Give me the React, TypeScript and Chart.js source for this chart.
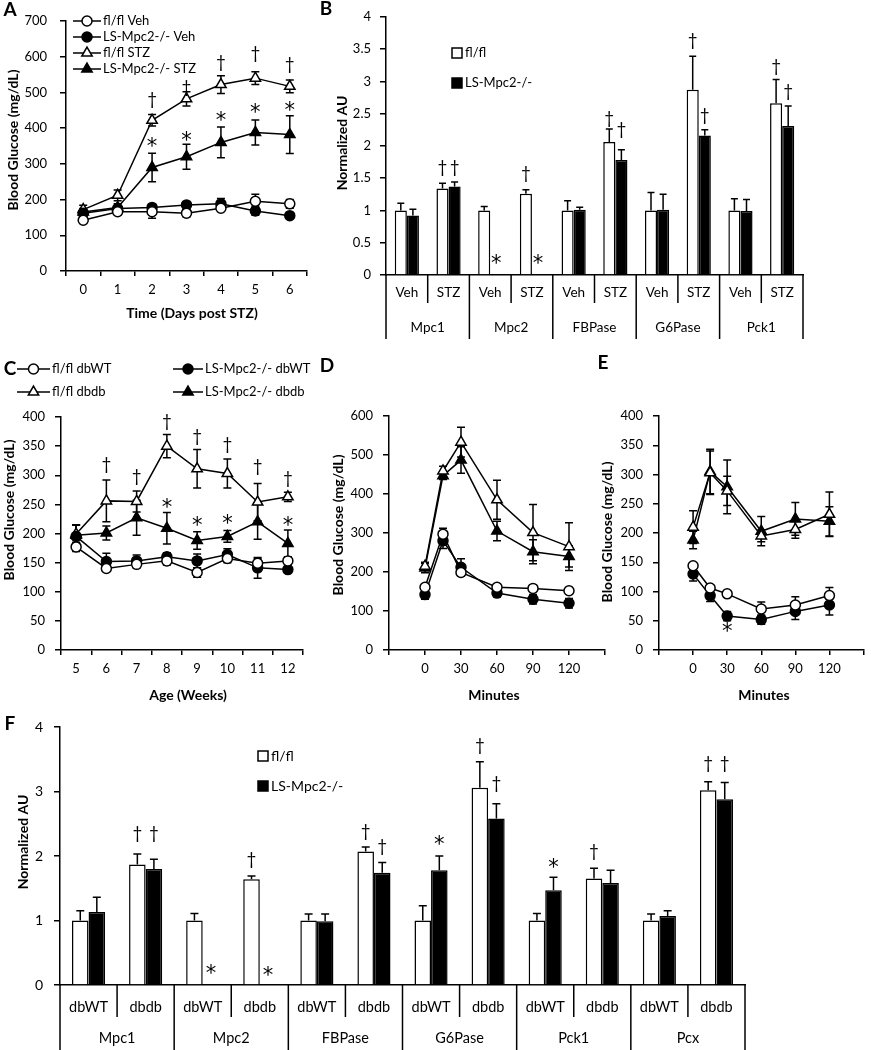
import React, { useEffect, useRef } from 'react';
import { Chart, registerables } from 'chart.js';

Chart.register(...registerables);

const W = 871;
const H = 1050;
const FONT = 'Lato, "Open Sans", "DejaVu Sans", sans-serif';
const STAR_FONT = '"DejaVu Sans", sans-serif';

// ---------------- Panel A ----------------
const aDays = ['0', '1', '2', '3', '4', '5', '6'];
const aFlVeh = [142, 166, 166, 162, 176, 195, 188];
const aFlVehErr = [8, 8, 18, 10, 8, 20, 12];
const aLsVeh = [162, 175, 178, 185, 188, 168, 155];
const aLsVehErr = [10, 8, 10, 8, 15, 12, 6];
const aFlStz = [172, 212, 422, 482, 522, 540, 517];
const aFlStzErr = [12, 15, 16, 20, 25, 18, 18];
const aLsStz = [165, 178, 290, 320, 360, 388, 382];
const aLsStzErr = [10, 10, 40, 35, 43, 35, 53];
const aDaggerIdx = [2, 3, 4, 5, 6];
const aDaggerVal = [479, 515, 585, 610, 577];
const aStarIdx = [2, 3, 4, 5, 6];
const aStarVal = [358, 375, 431, 451, 457];

// ---------------- Panel B ----------------
const bConditions = ['Veh', 'STZ', 'Veh', 'STZ', 'Veh', 'STZ', 'Veh', 'STZ', 'Veh', 'STZ'];
const bGenes = ['Mpc1', 'Mpc2', 'FBPase', 'G6Pase', 'Pck1'];
const bFl = [1.0, 1.34, 1.0, 1.26, 1.0, 2.06, 1.0, 2.87, 1.0, 2.66];
const bFlErr = [0.11, 0.08, 0.06, 0.06, 0.15, 0.2, 0.28, 0.52, 0.18, 0.37];
const bLs = [0.92, 1.37, 0.01, 0.008, 1.01, 1.78, 1.01, 2.16, 0.99, 2.31];
const bLsErr = [0.1, 0.07, 0, 0, 0.04, 0.16, 0.24, 0.09, 0.18, 0.31];
// [category, dataset, value, symbol]
const bMarks: [number, number, number, string][] = [
  [1, 0, 1.67, '†'], [1, 1, 1.67, '†'], [3, 0, 1.57, '†'],
  [2, 1, 0.22, '*'], [3, 1, 0.22, '*'],
  [5, 0, 2.42, '†'], [5, 1, 2.25, '†'],
  [7, 0, 3.64, '†'], [7, 1, 2.47, '†'],
  [9, 0, 3.23, '†'], [9, 1, 2.85, '†'],
];

// ---------------- Panel C ----------------
const cWeeks = ['5', '6', '7', '8', '9', '10', '11', '12'];
const cFlWT = [177, 140, 147, 153, 133, 157, 149, 153];
const cFlWTErr = [8, 5, 6, 7, 8, 7, 8, 5];
const cLsWT = [195, 152, 153, 160, 153, 164, 141, 138];
const cLsWTErr = [20, 14, 10, 7, 12, 10, 18, 5];
const cFlDb = [199, 256, 255, 350, 311, 303, 254, 263];
const cFlDbErr = [15, 36, 18, 20, 33, 25, 32, 8];
const cLsDb = [197, 201, 227, 209, 188, 195, 220, 183];
const cLsDbErr = [18, 12, 30, 27, 15, 10, 30, 23];
const cDaggerIdx = [1, 2, 3, 4, 5, 6, 7];
const cDaggerVal = [318, 298, 392, 367, 352, 315, 295];
const cStarIdx = [3, 4, 5, 7];
const cStarVal = [249, 219, 222, 219];

// ---------------- Panel D ----------------
const dMinutes = [0, 15, 30, 60, 90, 120];
const dFlWT = [161, 297, 199, 161, 158, 152];
const dFlWTErr = [5, 15, 8, 8, 5, 8];
const dLsWT = [142, 280, 212, 146, 130, 120];
const dLsWTErr = [12, 20, 22, 10, 12, 12];
const dFlDb = [215, 459, 533, 385, 301, 265];
const dFlDbErr = [10, 12, 38, 50, 72, 61];
const dLsDb = [210, 447, 487, 305, 252, 240];
const dLsDbErr = [12, 10, 34, 25, 31, 27];

// ---------------- Panel E ----------------
const eMinutes = [0, 15, 30, 60, 90, 120];
const eFlWT = [144, 106, 96, 70, 77, 93];
const eFlWTErr = [5, 5, 3, 12, 14, 14];
const eLsWT = [130, 93, 58, 52, 66, 77];
const eLsWTErr = [12, 10, 8, 8, 14, 17];
const eFlDb = [210, 303, 272, 195, 206, 232];
const eFlDbErr = [28, 37, 25, 10, 15, 38];
const eLsDb = [188, 305, 279, 203, 224, 220];
const eLsDbErr = [15, 38, 46, 25, 28, 25];
const eStarX = [30];
const eStarVal = [37];

// ---------------- Panel F ----------------
const fConditions = ['dbWT', 'dbdb', 'dbWT', 'dbdb', 'dbWT', 'dbdb', 'dbWT', 'dbdb', 'dbWT', 'dbdb', 'dbWT', 'dbdb'];
const fGenes = ['Mpc1', 'Mpc2', 'FBPase', 'G6Pase', 'Pck1', 'Pcx'];
const fFl = [1.0, 1.87, 1.0, 1.64, 1.0, 2.07, 1.0, 3.06, 1.0, 1.65, 1.0, 3.02];
const fFlErr = [0.15, 0.16, 0.11, 0.05, 0.1, 0.07, 0.23, 0.4, 0.11, 0.16, 0.1, 0.13];
const fLs = [1.13, 1.8, 0.01, 0.01, 0.99, 1.74, 1.78, 2.58, 1.47, 1.58, 1.07, 2.88];
const fLsErr = [0.23, 0.15, 0, 0, 0.11, 0.16, 0.22, 0.23, 0.2, 0.2, 0.08, 0.26];
const fMarks: [number, number, number, string][] = [
  [1, 0, 2.35, '†'], [1, 1, 2.35, '†'], [3, 0, 1.95, '†'],
  [2, 1, 0.23, '*'], [3, 1, 0.19, '*'],
  [5, 0, 2.38, '†'], [5, 1, 2.14, '†'],
  [6, 1, 2.22, '*'], [7, 0, 3.72, '†'], [7, 1, 3.13, '†'],
  [8, 1, 1.86, '*'], [9, 0, 2.07, '†'],
  [11, 0, 3.43, '†'], [11, 1, 3.43, '†'],
];

// ---------------- helpers ----------------
type Plot = { l: number; t: number; r: number; b: number };
type TextItem = { t: string; x: number; y: number; size: number; bold?: boolean; rot?: boolean; align?: CanvasTextAlign; family?: string };
type Mark = { x: number; ds?: number; v: number; s: string };
type LegendItem = { kind: 'line' | 'box'; x1: number; x2: number; y: number; style?: 'circle' | 'triangle'; filled: boolean; label: string; size: number };
type Multi = { l1: string[]; l2: string[]; y1: number; y2: number; inner: number; outer: number; size: number };
type Decor = {
  errs: (number[] | null)[];
  upOnly: boolean;
  errBefore: boolean;
  cap: number;
  marks: Mark[];
  legend: LegendItem[];
  texts: TextItem[];
  multi?: Multi;
};

function drawText(ctx: CanvasRenderingContext2D, it: TextItem) {
  ctx.save();
  ctx.translate(it.x, it.y);
  if (it.rot) ctx.rotate(-Math.PI / 2);
  ctx.font = `${it.bold ? 'bold ' : ''}${it.size}px ${it.family || FONT}`;
  ctx.fillStyle = '#000';
  ctx.textAlign = it.align || 'center';
  ctx.textBaseline = 'middle';
  ctx.fillText(it.t, 0, 0);
  ctx.restore();
}

function drawMarker(ctx: CanvasRenderingContext2D, style: string, filled: boolean, x: number, y: number, r: number) {
  ctx.save();
  ctx.beginPath();
  if (style === 'circle') {
    ctx.arc(x, y, r, 0, Math.PI * 2);
  } else {
    for (let k = 0; k < 3; k++) {
      const a = (k * 2 * Math.PI) / 3;
      const px = x + Math.sin(a) * r;
      const py = y - Math.cos(a) * r;
      if (k === 0) ctx.moveTo(px, py);
      else ctx.lineTo(px, py);
    }
    ctx.closePath();
  }
  ctx.fillStyle = filled ? '#000' : '#fff';
  ctx.fill();
  ctx.lineWidth = 1.5;
  ctx.strokeStyle = '#000';
  ctx.stroke();
  ctx.restore();
}

function drawErrors(chart: any, d: Decor) {
  const ctx: CanvasRenderingContext2D = chart.ctx;
  const ys = chart.scales.y;
  ctx.save();
  ctx.strokeStyle = '#000';
  ctx.lineWidth = 1.5;
  d.errs.forEach((e, di) => {
    if (!e) return;
    const meta = chart.getDatasetMeta(di);
    const data = chart.data.datasets[di].data;
    meta.data.forEach((el: any, j: number) => {
      const err = e[j];
      if (!err) return;
      const raw = data[j];
      const v = typeof raw === 'number' ? raw : raw.y;
      const x = el.x;
      const top = ys.getPixelForValue(v + err);
      const bot = d.upOnly ? ys.getPixelForValue(v) : ys.getPixelForValue(v - err);
      ctx.beginPath();
      ctx.moveTo(x, bot);
      ctx.lineTo(x, top);
      ctx.moveTo(x - d.cap, top);
      ctx.lineTo(x + d.cap, top);
      if (!d.upOnly) {
        ctx.moveTo(x - d.cap, bot);
        ctx.lineTo(x + d.cap, bot);
      }
      ctx.stroke();
    });
  });
  ctx.restore();
}

function decorPlugin(d: Decor) {
  return {
    id: 'decor',
    beforeDatasetsDraw(chart: any) {
      if (d.errBefore) drawErrors(chart, d);
    },
    afterDatasetsDraw(chart: any) {
      if (!d.errBefore) drawErrors(chart, d);
    },
    afterDraw(chart: any) {
      const ctx: CanvasRenderingContext2D = chart.ctx;
      const xs = chart.scales.x;
      const ys = chart.scales.y;
      // significance marks
      d.marks.forEach((m) => {
        let x: number;
        if (m.ds !== undefined) x = chart.getDatasetMeta(m.ds).data[m.x].x;
        else x = xs.getPixelForValue(m.x);
        const star = m.s === '*';
        if (star) {
          drawText(ctx, { t: '*', x, y: ys.getPixelForValue(m.v) + 4, size: 21, family: STAR_FONT });
        } else {
          drawText(ctx, { t: '†', x, y: ys.getPixelForValue(m.v), size: 17 });
        }
      });
      // legend
      d.legend.forEach((li) => {
        if (li.kind === 'line') {
          ctx.save();
          ctx.strokeStyle = '#000';
          ctx.lineWidth = 1.5;
          ctx.beginPath();
          ctx.moveTo(li.x1, li.y);
          ctx.lineTo(li.x2, li.y);
          ctx.stroke();
          ctx.restore();
          drawMarker(ctx, li.style || 'circle', li.filled, (li.x1 + li.x2) / 2, li.y, li.style === 'triangle' ? 6 : 5);
          drawText(ctx, { t: li.label, x: li.x2 + 2, y: li.y, size: li.size, align: 'left' });
        } else {
          ctx.save();
          ctx.fillStyle = li.filled ? '#000' : '#fff';
          ctx.strokeStyle = '#000';
          ctx.lineWidth = 1.5;
          ctx.fillRect(li.x1, li.y - 5, 10, 10);
          ctx.strokeRect(li.x1, li.y - 5, 10, 10);
          ctx.restore();
          drawText(ctx, { t: li.label, x: li.x2, y: li.y, size: li.size, align: 'left' });
        }
      });
      // multi-level category axis
      if (d.multi) {
        const m = d.multi;
        const ca = chart.chartArea;
        const n = m.l1.length;
        const step = (ca.right - ca.left) / n;
        ctx.save();
        ctx.strokeStyle = '#000';
        ctx.lineWidth = 1.5;
        for (let k = 0; k <= n; k++) {
          const x = ca.left + k * step;
          const len = k % 2 === 0 ? m.outer : m.inner;
          ctx.beginPath();
          ctx.moveTo(x, ca.bottom);
          ctx.lineTo(x, ca.bottom + len);
          ctx.stroke();
        }
        ctx.restore();
        m.l1.forEach((t, i) => drawText(ctx, { t, x: xs.getPixelForValue(i), y: m.y1, size: m.size }));
        m.l2.forEach((t, g) =>
          drawText(ctx, { t, x: (xs.getPixelForValue(2 * g) + xs.getPixelForValue(2 * g + 1)) / 2, y: m.y2, size: m.size })
        );
      }
      d.texts.forEach((t) => drawText(ctx, t));
    },
  };
}

function layoutFor(p: Plot, yW: number, xH: number) {
  return { padding: { left: p.l - yW, top: p.t, right: W - p.r, bottom: H - p.b - xH } };
}

function yAxis(min: number, max: number, step: number, yW: number, pad: number, size = 13) {
  return {
    type: 'linear',
    min,
    max,
    ticks: {
      stepSize: step,
      color: '#000',
      font: { family: FONT, size },
      padding: pad,
      callback: (v: number) => String(Math.round(Number(v) * 100) / 100),
    },
    grid: { display: true, drawOnChartArea: false, drawTicks: true, tickLength: 6, color: '#000', lineWidth: 1.5 },
    border: { display: true, color: '#000', width: 1.5 },
    afterFit: (s: any) => {
      s.width = yW;
    },
  };
}

function catXAxis(xH: number) {
  return {
    type: 'category',
    offset: true,
    ticks: { color: '#000', font: { family: FONT, size: 13 }, padding: 6, maxRotation: 0, autoSkip: false },
    grid: { display: true, offset: true, drawOnChartArea: false, drawTicks: true, tickLength: 5, color: '#000', lineWidth: 1.5 },
    border: { display: true, color: '#000', width: 1.5 },
    afterFit: (s: any) => {
      s.height = xH;
      s.paddingLeft = 0;
      s.paddingRight = 0;
    },
  };
}

function minXAxis(xH: number) {
  return {
    type: 'linear',
    min: -30,
    max: 150,
    ticks: {
      stepSize: 30,
      color: '#000',
      font: { family: FONT, size: 13 },
      padding: 6,
      maxRotation: 0,
      callback: (v: number) => (v < 0 || v >= 150 ? '' : String(v)),
    },
    grid: { display: true, drawOnChartArea: false, drawTicks: true, tickLength: 5, color: '#000', lineWidth: 1.5 },
    border: { display: true, color: '#000', width: 1.5 },
    afterFit: (s: any) => {
      s.height = xH;
      s.paddingLeft = 0;
      s.paddingRight = 0;
    },
  };
}

function barXAxis() {
  return {
    type: 'category',
    offset: true,
    ticks: { display: false },
    grid: { display: false },
    border: { display: true, color: '#000', width: 1.5 },
    afterFit: (s: any) => {
      s.height = 0;
      s.paddingLeft = 0;
      s.paddingRight = 0;
    },
  };
}

function lineDs(label: string, data: any[], style: 'circle' | 'triangle', filled: boolean) {
  return {
    label,
    data,
    borderColor: '#000',
    borderWidth: 1.5,
    pointStyle: style,
    pointRadius: style === 'circle' ? 5 : 6,
    pointBackgroundColor: filled ? '#000' : '#fff',
    pointBorderColor: '#000',
    pointBorderWidth: 1.5,
    fill: false,
    tension: 0,
  };
}

function barDs(label: string, data: number[], filled: boolean) {
  return {
    label,
    data,
    backgroundColor: filled ? '#000' : '#fff',
    borderColor: '#000',
    borderWidth: 1.5,
    categoryPercentage: 0.58,
    barPercentage: 1.0,
  };
}

const xy = (xs: number[], ys: number[]) => xs.map((x, i) => ({ x, y: ys[i] }));

function baseOptions(p: Plot, yW: number, xH: number, scales: any) {
  return {
    animation: false,
    responsive: false,
    maintainAspectRatio: false,
    devicePixelRatio: 1,
    events: [],
    layout: layoutFor(p, yW, xH),
    plugins: { legend: { display: false }, tooltip: { enabled: false }, title: { display: false } },
    scales,
  };
}

function buildConfigs(): any[] {
  const cfgs: any[] = [];

  // ---- A ----
  const pA: Plot = { l: 66, t: 21, r: 307, b: 271 };
  cfgs.push({
    type: 'line',
    data: {
      labels: aDays,
      datasets: [
        lineDs('fl/fl Veh', aFlVeh, 'circle', false),
        lineDs('LS-Mpc2-/- Veh', aLsVeh, 'circle', true),
        lineDs('fl/fl STZ', aFlStz, 'triangle', false),
        lineDs('LS-Mpc2-/- STZ', aLsStz, 'triangle', true),
      ],
    },
    options: baseOptions(pA, 50, 40, { x: catXAxis(40), y: yAxis(0, 700, 100, 50, 13) }),
    plugins: [
      decorPlugin({
        errs: [aFlVehErr, aLsVehErr, aFlStzErr, aLsStzErr],
        upOnly: false,
        errBefore: true,
        cap: 4,
        marks: [
          ...aDaggerIdx.map((x, i) => ({ x, v: aDaggerVal[i], s: '†' })),
          ...aStarIdx.map((x, i) => ({ x, v: aStarVal[i], s: '*' })),
        ],
        legend: [
          { kind: 'line', x1: 73, x2: 101, y: 21, style: 'circle', filled: false, label: 'fl/fl Veh', size: 13 },
          { kind: 'line', x1: 73, x2: 101, y: 37, style: 'circle', filled: true, label: 'LS-Mpc2-/- Veh', size: 13 },
          { kind: 'line', x1: 73, x2: 101, y: 53, style: 'triangle', filled: false, label: 'fl/fl STZ', size: 13 },
          { kind: 'line', x1: 73, x2: 101, y: 69, style: 'triangle', filled: true, label: 'LS-Mpc2-/- STZ', size: 13 },
        ],
        texts: [
          { t: 'A', x: 10, y: 10, size: 19, bold: true },
          { t: 'Blood Glucose (mg/dL)', x: 13, y: 140, size: 14, bold: true, rot: true },
          { t: 'Time (Days post STZ)', x: 192, y: 313, size: 14, bold: true },
        ],
      }),
    ],
  });

  // ---- B ----
  const pB: Plot = { l: 386, t: 11, r: 803, b: 275 };
  cfgs.push({
    type: 'bar',
    data: {
      labels: bConditions,
      datasets: [barDs('fl/fl', bFl, false), barDs('LS-Mpc2-/-', bLs, true)],
    },
    options: baseOptions(pB, 50, 0, { x: barXAxis(), y: yAxis(0, 4, 0.5, 50, 9) }),
    plugins: [
      decorPlugin({
        errs: [bFlErr, bLsErr],
        upOnly: true,
        errBefore: false,
        cap: 3.5,
        marks: bMarks.map(([x, ds, v, s]) => ({ x, ds, v, s })),
        legend: [
          { kind: 'box', x1: 452, x2: 465, y: 53, filled: false, label: 'fl/fl', size: 13 },
          { kind: 'box', x1: 452, x2: 465, y: 83, filled: true, label: 'LS-Mpc2-/-', size: 13 },
        ],
        texts: [
          { t: 'B', x: 326, y: 9, size: 19, bold: true },
          { t: 'Normalized AU', x: 342, y: 143, size: 14, bold: true, rot: true },
        ],
        multi: { l1: bConditions, l2: bGenes, y1: 293, y2: 328, inner: 28, outer: 64, size: 13.5 },
      }),
    ],
  });

  // ---- C ----
  const pC: Plot = { l: 61, t: 417, r: 303, b: 650 };
  cfgs.push({
    type: 'line',
    data: {
      labels: cWeeks,
      datasets: [
        lineDs('fl/fl dbWT', cFlWT, 'circle', false),
        lineDs('LS-Mpc2-/- dbWT', cLsWT, 'circle', true),
        lineDs('fl/fl dbdb', cFlDb, 'triangle', false),
        lineDs('LS-Mpc2-/- dbdb', cLsDb, 'triangle', true),
      ],
    },
    options: baseOptions(pC, 50, 40, { x: catXAxis(40), y: yAxis(0, 400, 50, 50, 10) }),
    plugins: [
      decorPlugin({
        errs: [cFlWTErr, cLsWTErr, cFlDbErr, cLsDbErr],
        upOnly: false,
        errBefore: true,
        cap: 4,
        marks: [
          ...cDaggerIdx.map((x, i) => ({ x, v: cDaggerVal[i], s: '†' })),
          ...cStarIdx.map((x, i) => ({ x, v: cStarVal[i], s: '*' })),
        ],
        legend: [
          { kind: 'line', x1: 17, x2: 50, y: 369, style: 'circle', filled: false, label: 'fl/fl dbWT', size: 13 },
          { kind: 'line', x1: 173, x2: 203, y: 369, style: 'circle', filled: true, label: 'LS-Mpc2-/- dbWT', size: 13 },
          { kind: 'line', x1: 17, x2: 50, y: 392, style: 'triangle', filled: false, label: 'fl/fl dbdb', size: 13 },
          { kind: 'line', x1: 173, x2: 203, y: 392, style: 'triangle', filled: true, label: 'LS-Mpc2-/- dbdb', size: 13 },
        ],
        texts: [
          { t: 'C', x: 10, y: 369, size: 19, bold: true },
          { t: 'Blood Glucose (mg/dL)', x: 9, y: 510, size: 14, bold: true, rot: true },
          { t: 'Age (Weeks)', x: 188, y: 695, size: 14, bold: true },
        ],
      }),
    ],
  });

  // ---- D ----
  const pD: Plot = { l: 389, t: 416, r: 605, b: 650 };
  cfgs.push({
    type: 'line',
    data: {
      datasets: [
        lineDs('fl/fl dbWT', xy(dMinutes, dFlWT), 'circle', false),
        lineDs('LS-Mpc2-/- dbWT', xy(dMinutes, dLsWT), 'circle', true),
        lineDs('fl/fl dbdb', xy(dMinutes, dFlDb), 'triangle', false),
        lineDs('LS-Mpc2-/- dbdb', xy(dMinutes, dLsDb), 'triangle', true),
      ],
    },
    options: baseOptions(pD, 50, 40, { x: minXAxis(40), y: yAxis(0, 600, 100, 50, 10) }),
    plugins: [
      decorPlugin({
        errs: [dFlWTErr, dLsWTErr, dFlDbErr, dLsDbErr],
        upOnly: false,
        errBefore: true,
        cap: 4,
        marks: [],
        legend: [],
        texts: [
          { t: 'D', x: 327, y: 366, size: 19, bold: true },
          { t: 'Blood Glucose (mg/dL)', x: 338, y: 525, size: 14, bold: true, rot: true },
          { t: 'Minutes', x: 494, y: 695, size: 14, bold: true },
        ],
      }),
    ],
  });

  // ---- E ----
  const pE: Plot = { l: 659, t: 416, r: 871, b: 650 };
  cfgs.push({
    type: 'line',
    data: {
      datasets: [
        lineDs('fl/fl dbWT', xy(eMinutes, eFlWT), 'circle', false),
        lineDs('LS-Mpc2-/- dbWT', xy(eMinutes, eLsWT), 'circle', true),
        lineDs('fl/fl dbdb', xy(eMinutes, eFlDb), 'triangle', false),
        lineDs('LS-Mpc2-/- dbdb', xy(eMinutes, eLsDb), 'triangle', true),
      ],
    },
    options: baseOptions(pE, 50, 40, { x: minXAxis(40), y: yAxis(0, 400, 50, 50, 10) }),
    plugins: [
      decorPlugin({
        errs: [eFlWTErr, eLsWTErr, eFlDbErr, eLsDbErr],
        upOnly: false,
        errBefore: true,
        cap: 4,
        marks: eStarX.map((x, i) => ({ x, v: eStarVal[i], s: '*' })),
        legend: [],
        texts: [
          { t: 'E', x: 603, y: 363, size: 19, bold: true },
          { t: 'Blood Glucose (mg/dL)', x: 607, y: 532, size: 14, bold: true, rot: true },
          { t: 'Minutes', x: 764, y: 695, size: 14, bold: true },
        ],
      }),
    ],
  });

  // ---- F ----
  const pF: Plot = { l: 60, t: 727, r: 745, b: 985 };
  cfgs.push({
    type: 'bar',
    data: {
      labels: fConditions,
      datasets: [barDs('fl/fl', fFl, false), barDs('LS-Mpc2-/-', fLs, true)],
    },
    options: baseOptions(pF, 50, 0, { x: barXAxis(), y: yAxis(0, 4, 1, 50, 11, 14) }),
    plugins: [
      decorPlugin({
        errs: [fFlErr, fLsErr],
        upOnly: true,
        errBefore: false,
        cap: 4,
        marks: fMarks.map(([x, ds, v, s]) => ({ x, ds, v, s })),
        legend: [
          { kind: 'box', x1: 258, x2: 271, y: 756, filled: false, label: 'fl/fl', size: 14 },
          { kind: 'box', x1: 258, x2: 271, y: 786, filled: true, label: 'LS-Mpc2-/-', size: 14 },
        ],
        texts: [
          { t: 'F', x: 10, y: 724, size: 19, bold: true },
          { t: 'Normalized AU', x: 23, y: 842, size: 14, bold: true, rot: true },
        ],
        multi: { l1: fConditions, l2: fGenes, y1: 1007, y2: 1038, inner: 32, outer: 70, size: 14.5 },
      }),
    ],
  });

  return cfgs;
}

export default function App() {
  const refs = useRef<(HTMLCanvasElement | null)[]>([]);

  useEffect(() => {
    const cfgs = buildConfigs();
    const charts: Chart[] = [];
    cfgs.forEach((cfg, i) => {
      const c = refs.current[i];
      if (c) charts.push(new Chart(c, cfg));
    });
    return () => {
      charts.forEach((ch) => ch.destroy());
    };
  }, []);

  return (
    <div style={{ position: 'absolute', left: 0, top: 0, width: W, height: H, background: '#fff', overflow: 'hidden' }}>
      {[0, 1, 2, 3, 4, 5].map((i) => (
        <canvas
          key={i}
          ref={(el) => {
            refs.current[i] = el;
          }}
          width={W}
          height={H}
          style={{ position: 'absolute', left: 0, top: 0, width: W, height: H }}
        />
      ))}
    </div>
  );
}
